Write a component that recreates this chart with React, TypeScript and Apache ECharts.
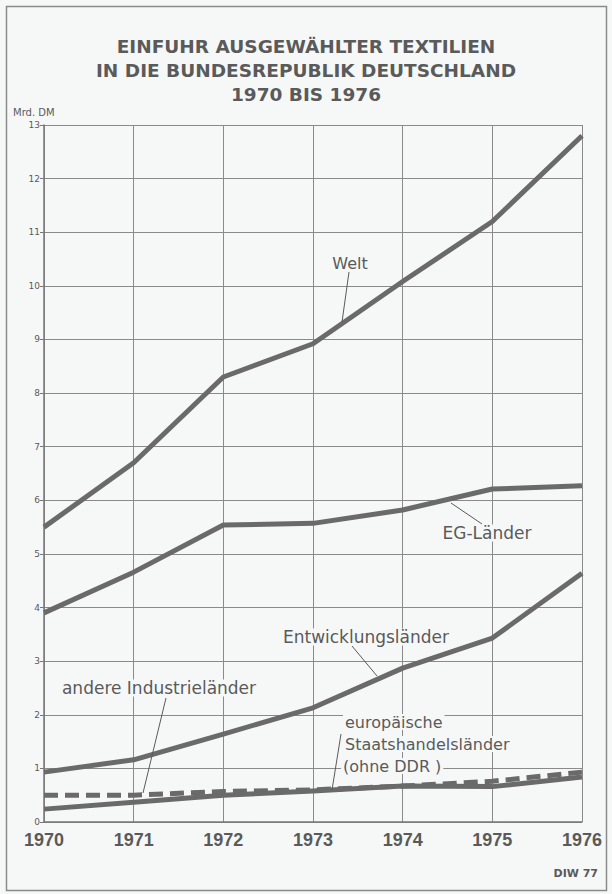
import React, { useEffect, useRef } from "react";
import * as echarts from "echarts";

const years = [1970, 1971, 1972, 1973, 1974, 1975, 1976];
const welt = [5.5, 6.7, 8.3, 8.92, 10.08, 11.2, 12.8];
const egLaender = [3.9, 4.66, 5.54, 5.57, 5.82, 6.21, 6.27];
const entwicklungslaender = [0.93, 1.16, 1.64, 2.13, 2.87, 3.43, 4.64];
const andereIndustrielaender = [0.5, 0.5, 0.57, 0.6, 0.67, 0.76, 0.93];
const staatshandelslaender = [0.24, 0.37, 0.5, 0.58, 0.67, 0.66, 0.84];
const yTicks = [0, 1, 2, 3, 4, 5, 6, 7, 8, 9, 10, 11, 12, 13];

const BG = "#f6f8f8";
const INK = "#5a5a5a";
const LINE = "#6a6a6a";

const pairs = (vals: number[]) => years.map((y, i) => [y, vals[i]]);

export default function App() {
  const ref = useRef<HTMLDivElement>(null);
  useEffect(() => {
    document.body.style.margin = "0";
    const chart = echarts.init(ref.current!, undefined, { renderer: "svg" });
    const lbl = (text: string, x: number, y: number, align = "center", size = 17) => ({
      type: "text",
      z: 100,
      style: {
        text,
        x,
        y,
        textAlign: align,
        textVerticalAlign: "middle",
        fill: INK,
        font: `${size}px "DejaVu Sans"`,
        backgroundColor: BG,
        padding: [0, 2],
      },
    });
    const leader = (x1: number, y1: number, x2: number, y2: number) => ({
      type: "line",
      z: 99,
      shape: { x1, y1, x2, y2 },
      style: { stroke: INK, lineWidth: 1 },
    });
    const lineSeries = (name: string, vals: number[], width: number, dashed = false) => ({
      type: "line",
      name,
      data: pairs(vals),
      symbol: "none",
      z: dashed ? 3 : 2,
      lineStyle: {
        color: LINE,
        width,
        type: dashed ? [14, 7] : "solid",
        cap: "butt",
        join: "round",
      },
    });
    chart.setOption({
      animation: false,
      backgroundColor: BG,
      title: {
        text: "EINFUHR AUSGEWÄHLTER TEXTILIEN\nIN DIE BUNDESREPUBLIK DEUTSCHLAND\n1970 BIS 1976",
        left: "center",
        top: 29,
        textStyle: {
          fontFamily: "DejaVu Sans",
          fontWeight: "bold",
          fontSize: 18.5,
          lineHeight: 24,
          color: INK,
        },
      },
      grid: { left: 44, right: 30, top: 125, bottom: 72 },
      xAxis: {
        type: "value",
        min: 1970,
        max: 1976,
        interval: 1,
        axisLine: { show: true, lineStyle: { color: "#777", width: 1.5 } },
        axisTick: { show: false },
        splitLine: { show: true, lineStyle: { color: "#8a8a8a", width: 1 } },
        axisLabel: {
          color: INK,
          fontFamily: "Liberation Sans",
          fontWeight: "bold",
          fontSize: 18,
          margin: 9,
          formatter: (v: number) => String(v),
        },
      },
      yAxis: {
        type: "value",
        min: yTicks[0],
        max: yTicks[yTicks.length - 1],
        interval: 1,
        axisLine: { show: true, lineStyle: { color: "#777", width: 1.5 } },
        axisTick: { show: true, length: 4, lineStyle: { color: "#777" } },
        splitLine: { show: true, lineStyle: { color: "#8a8a8a", width: 1 } },
        axisLabel: {
          color: INK,
          fontFamily: "DejaVu Sans",
          fontSize: 9,
          margin: 4,
        },
      },
      series: [
        lineSeries("Welt", welt, 5),
        lineSeries("EG-Länder", egLaender, 5),
        lineSeries("Entwicklungsländer", entwicklungslaender, 5),
        lineSeries("europäische Staatshandelsländer (ohne DDR)", staatshandelslaender, 5),
        lineSeries("andere Industrieländer", andereIndustrielaender, 5, true),
      ],
      graphic: [
        {
          type: "rect",
          z: 0,
          shape: { x: 6.5, y: 6.5, width: 600, height: 884 },
          style: { fill: "none", stroke: "#8a8a8a", lineWidth: 1.5 },
        },
        {
          type: "text",
          style: {
            text: "Mrd. DM",
            x: 13,
            y: 112,
            textVerticalAlign: "middle",
            fill: INK,
            font: '10px "DejaVu Sans"',
          },
        },
        {
          type: "text",
          style: {
            text: "DIW 77",
            x: 598,
            y: 873,
            textAlign: "right",
            textVerticalAlign: "middle",
            fill: INK,
            font: 'bold 11px "DejaVu Sans"',
          },
        },
        leader(349, 272, 342, 322),
        lbl("Welt", 350, 263, "center", 16),
        leader(451, 503, 482, 524),
        lbl("EG-Länder", 487, 533, "center", 17),
        leader(352, 646, 377, 676),
        lbl("Entwicklungsländer", 366, 637, "center", 17),
        leader(166, 698, 143, 793),
        lbl("andere Industrieländer", 159, 688, "center", 17),
        leader(341, 734, 332, 790),
        lbl("europäische", 343, 722, "left", 16),
        lbl("Staatshandelsländer", 343, 744, "left", 16),
        lbl("(ohne DDR )", 341, 766, "left", 16),
      ],
    });
    return () => chart.dispose();
  }, []);
  return <div ref={ref} style={{ width: 612, height: 894 }} />;
}
